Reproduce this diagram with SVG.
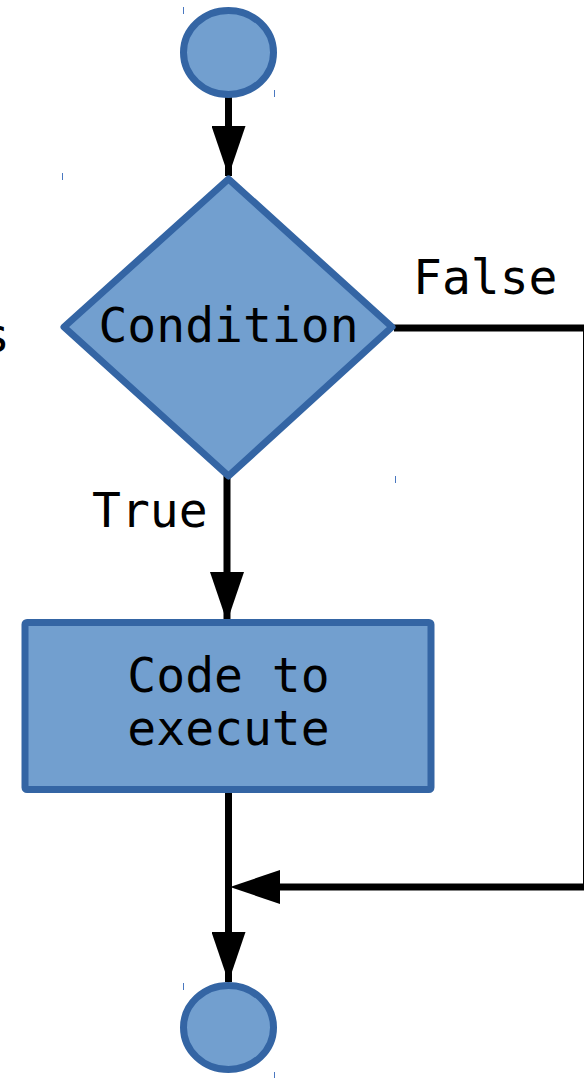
<svg xmlns="http://www.w3.org/2000/svg" width="584" height="1078" viewBox="0 0 584 1078">
  <style>
    .shape { fill: #729fcf; stroke: #3465a4; stroke-width: 7; }
    .wire { fill: none; stroke: #000000; stroke-width: 7; }
    .label { font-family: "DejaVu Sans Mono", "Liberation Mono", monospace; font-size: 48px; fill: #000000; }
    .tick { fill: #4a78c0; }
  </style>
  <defs>
    <marker id="arrow" markerUnits="userSpaceOnUse" markerWidth="50" markerHeight="34" refX="50" refY="17" orient="auto">
      <path d="M0,0 L50,17 L0,34 Z" fill="#000000"/>
    </marker>
  </defs>
  <rect width="584" height="1078" fill="#ffffff"/>

  <!-- connectors -->
  <g id="connectors">
    <line class="wire" x1="228.5" y1="96" x2="228.5" y2="176" marker-end="url(#arrow)"/>
    <line class="wire" x1="227" y1="476" x2="227" y2="622" marker-end="url(#arrow)"/>
    <polyline class="wire" points="394,328 586.5,328 586.5,887 278,887"/>
    <path d="M280,870 L230,887 L280,904 Z" fill="#000000"/>
    <line class="wire" x1="228.5" y1="790" x2="228.5" y2="982" marker-end="url(#arrow)"/>
  </g>

  <!-- start terminal -->
  <g id="start">
    <ellipse class="shape" cx="228.5" cy="52.5" rx="45" ry="42"/>
  </g>

  <!-- decision -->
  <g id="condition">
    <polygon class="shape" stroke-linejoin="round" points="228.5,179 392,327 228.5,476 64,327"/>
    <text class="label" x="228.5" y="342" text-anchor="middle">Condition</text>
  </g>

  <!-- branch labels -->
  <g id="label-false">
    <text class="label" x="413" y="294">False</text>
  </g>
  <g id="label-true">
    <text class="label" x="92" y="527">True</text>
  </g>

  <!-- process -->
  <g id="code">
    <rect class="shape" x="25" y="622.5" width="406" height="167" rx="2" stroke-width="6"/>
    <text class="label" x="228.5" y="692" text-anchor="middle">Code to</text>
    <text class="label" x="228.5" y="745" text-anchor="middle">execute</text>
  </g>

  <!-- end terminal -->
  <g id="end">
    <ellipse class="shape" cx="228.5" cy="1027.5" rx="45" ry="42"/>
  </g>

  <!-- clipped side text -->
  <text class="label" x="-19" y="352">s</text>

  <!-- bounding-box corner ticks -->
  <g id="ticks">
    <rect class="tick" x="183" y="7" width="1" height="7"/>
    <rect class="tick" x="274" y="90" width="1" height="7"/>
    <rect class="tick" x="62" y="173" width="1" height="7"/>
    <rect class="tick" x="395" y="476" width="1" height="7"/>
    <rect class="tick" x="183" y="983" width="1" height="7"/>
    <rect class="tick" x="274" y="1072" width="1" height="6"/>
  </g>
</svg>
